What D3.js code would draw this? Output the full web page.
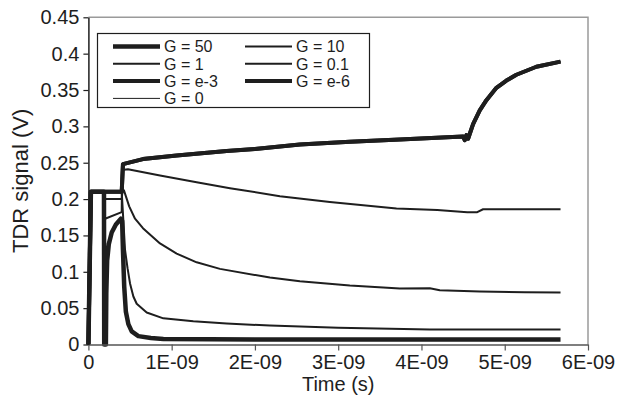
<!DOCTYPE html>
<html>
<head>
<meta charset="utf-8">
<script src="https://cdnjs.cloudflare.com/ajax/libs/d3/7.8.5/d3.min.js"></script>
<style>
  body { margin: 0; background: #fff; }
  svg { font-family: 'Liberation Sans', Arial, sans-serif; }
</style>
</head>
<body>
<svg width="619" height="397"></svg>
<script>
// Values: [time (ns), TDR signal (V)]
// G = e-6, G = e-3 and G = 0 lie on top of each other
const gLow = [
  [0, 0], [0.03, 0.21], [0.40, 0.21], [0.415, 0.248], [0.655, 0.255], [1.06, 0.26],
  [1.66, 0.266], [2.0, 0.269], [2.54, 0.275], [3.14, 0.279], [3.74, 0.282], [4.5, 0.286],
  [4.52, 0.281], [4.54, 0.288], [4.56, 0.283], [4.62, 0.303], [4.70, 0.322], [4.78, 0.336],
  [4.90, 0.353], [5.02, 0.363], [5.14, 0.371], [5.38, 0.382], [5.67, 0.389]
];
const g01 = [
  [0, 0], [0.03, 0.21], [0.19, 0.21], [0.2, 0.173], [0.40, 0.182], [0.405, 0.24],
  [0.475, 0.241], [0.86, 0.2325], [1.30, 0.223], [1.70, 0.215], [2.30, 0.204], [2.90, 0.196],
  [3.70, 0.187], [4.19, 0.185], [4.55, 0.182], [4.67, 0.182], [4.74, 0.186], [5.67, 0.186]
];
const g1 = [
  [0, 0], [0.03, 0.21], [0.19, 0.21], [0.2, 0.2], [0.40, 0.2], [0.41, 0.212],
  [0.427, 0.212], [0.49, 0.19], [0.56, 0.173], [0.655, 0.16], [0.86, 0.139], [1.06, 0.125],
  [1.30, 0.113], [1.58, 0.104], [2.18, 0.092], [2.54, 0.087], [3.14, 0.081], [3.74, 0.077],
  [4.10, 0.0775], [4.22, 0.0745], [4.70, 0.073], [5.24, 0.072], [5.67, 0.0716]
];
const g10 = [
  [0, 0], [0.03, 0.21], [0.40, 0.21], [0.42, 0.17], [0.44, 0.13], [0.47, 0.105],
  [0.50, 0.084], [0.54, 0.066], [0.58, 0.056], [0.70, 0.044], [0.90, 0.036], [1.26, 0.032],
  [1.66, 0.029], [2.18, 0.026], [3.0, 0.023], [4.1, 0.0206], [5.67, 0.0206]
];
const g50 = [
  [0, 0], [0.03, 0.21], [0.187, 0.21], [0.19, 0], [0.21, 0], [0.215, 0.07],
  [0.225, 0.115], [0.245, 0.138], [0.28, 0.154], [0.33, 0.165], [0.39, 0.173], [0.405, 0.17],
  [0.415, 0.13], [0.43, 0.08], [0.45, 0.045], [0.48, 0.028], [0.52, 0.018], [0.60, 0.0115],
  [0.75, 0.009], [0.9, 0.0075], [2.0, 0.007], [5.67, 0.0068]
];

const legendLabels = ['G = 50', 'G = 10', 'G = 1', 'G = 0.1', 'G = e-3', 'G = e-6', 'G = 0'];
const seriesData = [g50, g10, g1, g01, gLow, gLow, gLow];

const xTicks = [0, 1, 2, 3, 4, 5, 6];
const xTickLabels = ['0', '1E-09', '2E-09', '3E-09', '4E-09', '5E-09', '6E-09'];
const yTicks = [0, 0.05, 0.1, 0.15, 0.2, 0.25, 0.3, 0.35, 0.4, 0.45];
const yTickLabels = ['0', '0.05', '0.1', '0.15', '0.2', '0.25', '0.3', '0.35', '0.4', '0.45'];

const svg = d3.select('svg'),
  width = +svg.attr('width'),
  height = +svg.attr('height');

const margin = { top: 17.3, right: 31, bottom: 52.5, left: 88.4 };
const x = d3.scaleLinear().domain([0, 6]).range([margin.left, width - margin.right]);
const y = d3.scaleLinear().domain([0, 0.45]).range([height - margin.bottom, margin.top]);

// line widths per legend entry
const widths = [4.5, 2, 2, 2, 4, 4, 1];

// grey frame on top and right
svg.append('path')
  .attr('d', `M${x(0)},${y(0.45)}H${x(6)}V${y(0)}`)
  .attr('fill', 'none')
  .attr('stroke', '#9a9a9a')
  .attr('stroke-width', 1.5);

const line = d3.line().x(d => x(d[0])).y(d => y(d[1]));

// draw thin ones first, thick on top
const order = [6, 3, 2, 1, 0, 4, 5];
svg.append('g')
  .selectAll('path')
  .data(order)
  .enter()
  .append('path')
  .attr('d', i => line(seriesData[i]))
  .attr('fill', 'none')
  .attr('stroke', '#1e1e1e')
  .attr('stroke-width', i => widths[i])
  .attr('stroke-linejoin', 'round');

// axes
const gx = svg.append('g')
  .attr('transform', `translate(0,${y(0)})`)
  .call(d3.axisBottom(x).tickValues(xTicks).tickFormat((d, i) => xTickLabels[i]).tickSize(6).tickSizeOuter(0));
gx.select('.domain').attr('stroke', '#555').attr('stroke-width', 1.5);
gx.selectAll('.tick line').attr('stroke', '#555').attr('stroke-width', 1.2);
gx.selectAll('text').attr('font-size', 20).attr('fill', '#1e1e1e').attr('dy', '0.75em');

const gy = svg.append('g')
  .attr('transform', `translate(${x(0)},0)`)
  .call(d3.axisLeft(y).tickValues(yTicks).tickFormat((d, i) => yTickLabels[i]).tickSize(5).tickSizeOuter(0));
gy.select('.domain').attr('stroke', '#1e1e1e').attr('stroke-width', 1.5);
gy.selectAll('.tick line').attr('stroke', '#1e1e1e').attr('stroke-width', 1.2);
gy.selectAll('text').attr('font-size', 20).attr('fill', '#1e1e1e').attr('x', -9);

// axis titles
svg.append('text')
  .attr('x', (x(0) + x(6)) / 2)
  .attr('y', 391)
  .attr('text-anchor', 'middle')
  .attr('font-size', 20)
  .attr('fill', '#1e1e1e')
  .text('Time (s)');
svg.append('text')
  .attr('transform', `translate(28,${(y(0) + y(0.45)) / 2}) rotate(-90)`)
  .attr('text-anchor', 'middle')
  .attr('font-size', 22)
  .attr('fill', '#1e1e1e')
  .text('TDR signal (V)');

// legend
const legend = svg.append('g');
legend.append('rect')
  .attr('x', 97.5).attr('y', 33.5)
  .attr('width', 272).attr('height', 74)
  .attr('fill', '#fff')
  .attr('stroke', '#1e1e1e')
  .attr('stroke-width', 1.2);
const item = legend.selectAll('g.item')
  .data(legendLabels)
  .enter()
  .append('g')
  .attr('class', 'item')
  .attr('transform', (d, i) => `translate(${i % 2 === 0 ? 113 : 245},${46.5 + Math.floor(i / 2) * 17.3})`);
item.append('line')
  .attr('x1', 0).attr('x2', 47)
  .attr('stroke', '#1e1e1e')
  .attr('stroke-width', (d, i) => widths[i]);
item.append('text')
  .attr('x', 51)
  .attr('dy', '0.36em')
  .attr('font-size', 16)
  .attr('fill', '#1e1e1e')
  .text(d => d);
</script>
</body>
</html>
